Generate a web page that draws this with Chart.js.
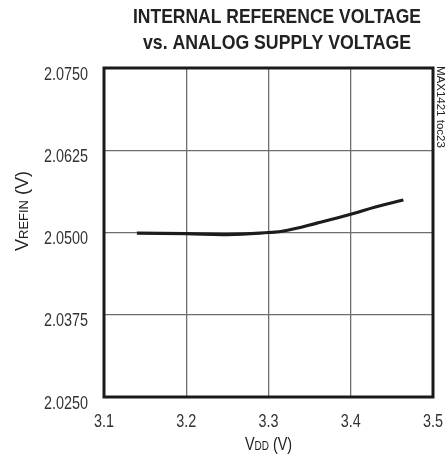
<!DOCTYPE html>
<html>
<head>
<meta charset="utf-8">
<title>Internal reference voltage vs. analog supply voltage</title>
<script src="https://cdn.jsdelivr.net/npm/chart.js@4.4.0/dist/chart.umd.min.js"></script>
<style>
  html, body { margin: 0; padding: 0; background: #fff; }
  #chart { display: block; }
</style>
</head>
<body>
<canvas id="chart" width="448" height="460"></canvas>
<script>
// 讀取自圖表的數據
const vddValues = [3.14, 3.2, 3.25, 3.3, 3.32, 3.36, 3.4, 3.43, 3.464];
const vrefValues = [2.04992, 2.04982, 2.04968, 2.05, 2.05026, 2.05147, 2.05277, 2.05388, 2.05494];
const xTicks = [3.1, 3.2, 3.3, 3.4, 3.5];
const yTicks = [2.025, 2.0375, 2.05, 2.0625, 2.075];

const FONT = "'Liberation Sans', Arial, Helvetica, sans-serif";
const INK = '#222';
const SQUEEZE = 0.8; // 原圖用窄體字

// 窄體文字 (用 maxWidth 壓縮)
function condText(ctx, text, x, y, align) {
    const w = ctx.measureText(text).width * SQUEEZE;
    let left = x;
    if (align === 'center') left = x - w / 2;
    if (align === 'right') left = x - w;
    ctx.textAlign = 'left';
    ctx.fillText(text, left, y, w);
}

// 混合字號文字
function drawRich(ctx, segs, x, y, squeeze) {
    let total = 0;
    segs.forEach(s => { ctx.font = s.font; s.w = ctx.measureText(s.text).width * squeeze; total += s.w; });
    let cx = x - total / 2;
    ctx.textAlign = 'left';
    segs.forEach(s => {
        ctx.font = s.font;
        ctx.fillText(s.text, cx, y + (s.dy || 0), s.w);
        cx += s.w;
    });
}

const decorPlugin = {
    id: 'decor',
    afterDatasetsDraw(chart) {
        const ctx = chart.ctx;
        const a = chart.chartArea;
        ctx.save();
        ctx.strokeStyle = '#1a1a1a';
        ctx.lineWidth = 3;
        ctx.strokeRect(a.left, a.top, a.right - a.left, a.bottom - a.top);
        ctx.restore();
    },
    afterDraw(chart) {
        const ctx = chart.ctx;
        const a = chart.chartArea;
        const xs = chart.scales.x;
        const ys = chart.scales.y;
        ctx.save();
        ctx.fillStyle = INK;
        ctx.textBaseline = 'alphabetic';

        // 標題
        ctx.textAlign = 'center';
        ctx.font = "bold 21px " + FONT;
        ctx.fillText('INTERNAL REFERENCE VOLTAGE', 277, 23, 288);
        ctx.fillText('vs. ANALOG SUPPLY VOLTAGE', 277, 49, 268);

        // 刻度文字
        ctx.fillStyle = '#333';
        ctx.font = "18px " + FONT;
        xs.ticks.forEach(t => {
            condText(ctx, t.value.toFixed(1), xs.getPixelForValue(t.value), 427, 'center');
        });
        ys.ticks.forEach(t => {
            condText(ctx, t.value.toFixed(4), a.left - 16, ys.getPixelForValue(t.value) + 11.5, 'right');
        });

        // x 軸標題
        ctx.fillStyle = INK;
        drawRich(ctx, [
            { text: 'V', font: "18px " + FONT },
            { text: 'DD', font: "12.5px " + FONT },
            { text: ' (V)', font: "18px " + FONT }
        ], (a.left + a.right) / 2, 450, SQUEEZE);

        // y 軸標題
        ctx.save();
        ctx.translate(28, 211);
        ctx.rotate(-Math.PI / 2);
        drawRich(ctx, [
            { text: 'V', font: "18px " + FONT },
            { text: 'REFIN', font: "13px " + FONT },
            { text: ' (V)', font: "18px " + FONT }
        ], 0, 0, 1);
        ctx.restore();

        // 側邊編號
        ctx.save();
        ctx.translate(437, 66);
        ctx.rotate(Math.PI / 2);
        ctx.textAlign = 'left';
        ctx.font = "11.5px " + FONT;
        ctx.fillText('MAX1421 toc23', 0, 0, 86);
        ctx.restore();
        ctx.restore();
    }
};

new Chart(document.getElementById('chart'), {
    type: 'scatter',
    data: {
        datasets: [{
            data: vddValues.map((v, i) => ({ x: v, y: vrefValues[i] })),
            showLine: true,
            borderColor: '#1c1c1c',
            borderWidth: 3.2,
            pointRadius: 0,
            tension: 0.4,
            fill: false
        }]
    },
    options: {
        responsive: false,
        animation: false,
        layout: { padding: { top: 68, right: 15, left: 0, bottom: 0 } },
        plugins: {
            legend: { display: false },
            tooltip: { enabled: false }
        },
        scales: {
            x: {
                type: 'linear',
                min: 3.1,
                max: 3.5,
                afterBuildTicks: scale => { scale.ticks = xTicks.map(v => ({ value: v })); },
                afterFit: scale => { scale.height = 63; },
                grid: { color: '#6e6e6e', lineWidth: 1.3, drawTicks: false },
                border: { display: false },
                ticks: { display: false }
            },
            y: {
                type: 'linear',
                min: 2.025,
                max: 2.075,
                afterBuildTicks: scale => { scale.ticks = yTicks.map(v => ({ value: v })); },
                afterFit: scale => { scale.width = 104; },
                grid: { color: '#6e6e6e', lineWidth: 1.3, drawTicks: false },
                border: { display: false },
                ticks: { display: false }
            }
        }
    },
    plugins: [decorPlugin]
});
</script>
</body>
</html>
